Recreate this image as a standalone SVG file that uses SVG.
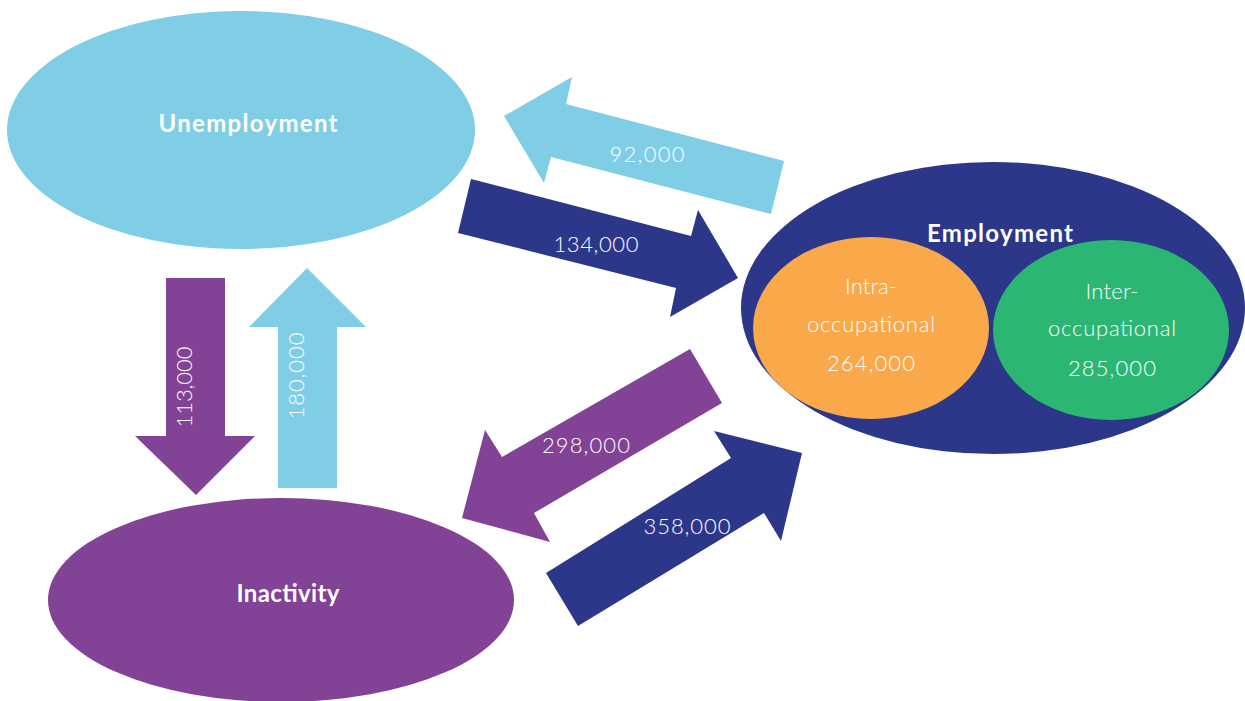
<svg xmlns="http://www.w3.org/2000/svg" width="1245" height="701" viewBox="0 0 1245 701">
<style>
.lbl{font-family:Lato,"Open Sans","Liberation Sans",sans-serif;fill:#ffffff}
.title{font-size:24px;font-weight:bold;text-anchor:middle}
.sub{font-size:22px;font-weight:300;text-anchor:middle}
.num{font-size:22px;font-weight:300;text-anchor:middle}
.lb{fill:#80CDE6}.nv{fill:#2C3789}.pu{fill:#824295}.or{fill:#F9A84A}.gr{fill:#2BB673}
</style>
<rect width="1245" height="701" fill="#ffffff"/>
<g id="unemployment">
<ellipse class="lb" cx="241" cy="130" rx="234" ry="119"/>
<text class="lbl title" x="248" y="132" textLength="179" lengthAdjust="spacing">Unemployment</text>
</g>
<g id="inactivity">
<ellipse class="pu" cx="281" cy="600" rx="233" ry="102"/>
<text class="lbl title" x="288" y="602" textLength="103" lengthAdjust="spacing">Inactivity</text>
</g>
<g id="employment">
<ellipse class="nv" cx="993" cy="308" rx="252" ry="146"/>
<text class="lbl title" x="1000" y="242" textLength="146" lengthAdjust="spacing">Employment</text>
<g id="intra">
<ellipse class="or" cx="871" cy="328" rx="118" ry="91"/>
<text class="lbl sub" x="871" y="294" textLength="52" lengthAdjust="spacing">Intra-</text>
<text class="lbl sub" x="871" y="332" textLength="128" lengthAdjust="spacing">occupational</text>
<text class="lbl sub" x="871" y="371" textLength="88" lengthAdjust="spacing">264,000</text>
</g>
<g id="inter">
<ellipse class="gr" cx="1111" cy="330" rx="118" ry="90"/>
<text class="lbl sub" x="1112" y="299" textLength="53" lengthAdjust="spacing">Inter-</text>
<text class="lbl sub" x="1112" y="336" textLength="128" lengthAdjust="spacing">occupational</text>
<text class="lbl sub" x="1112" y="376" textLength="88" lengthAdjust="spacing">285,000</text>
</g>
</g>
<g id="connectors">
<polygon class="lb" points="504,116 572,77 566,104 784,161 771,214 551,157 544,183"/>
<text class="lbl num" x="647" y="162" textLength="75" lengthAdjust="spacing">92,000</text>
<polygon class="nv" points="471,179 691,236 698,210 738,278 670,317 676,288 458,233"/>
<text class="lbl num" x="596" y="252" textLength="85" lengthAdjust="spacing">134,000</text>
<polygon class="pu" points="166,278 225,278 225,436 255,436 196,495 135,436 166,436"/>
<text class="lbl num" transform="translate(192,387) rotate(-90)" textLength="81" lengthAdjust="spacing">113,000</text>
<polygon class="lb" points="307,268 366,327 337,327 337,488 278,488 278,327 249,327"/>
<text class="lbl num" transform="translate(304,376) rotate(-90)" textLength="87" lengthAdjust="spacing">180,000</text>
<polygon class="pu" points="690,349 722,403 534,513 550,542 462,518 485,430 502,457"/>
<text class="lbl num" x="586" y="453" textLength="88" lengthAdjust="spacing">298,000</text>
<polygon class="nv" points="546,573 731,458 714,431 802,453 781,541 764,513 578,626"/>
<text class="lbl num" x="687" y="534" textLength="87" lengthAdjust="spacing">358,000</text>
</g>
</svg>
